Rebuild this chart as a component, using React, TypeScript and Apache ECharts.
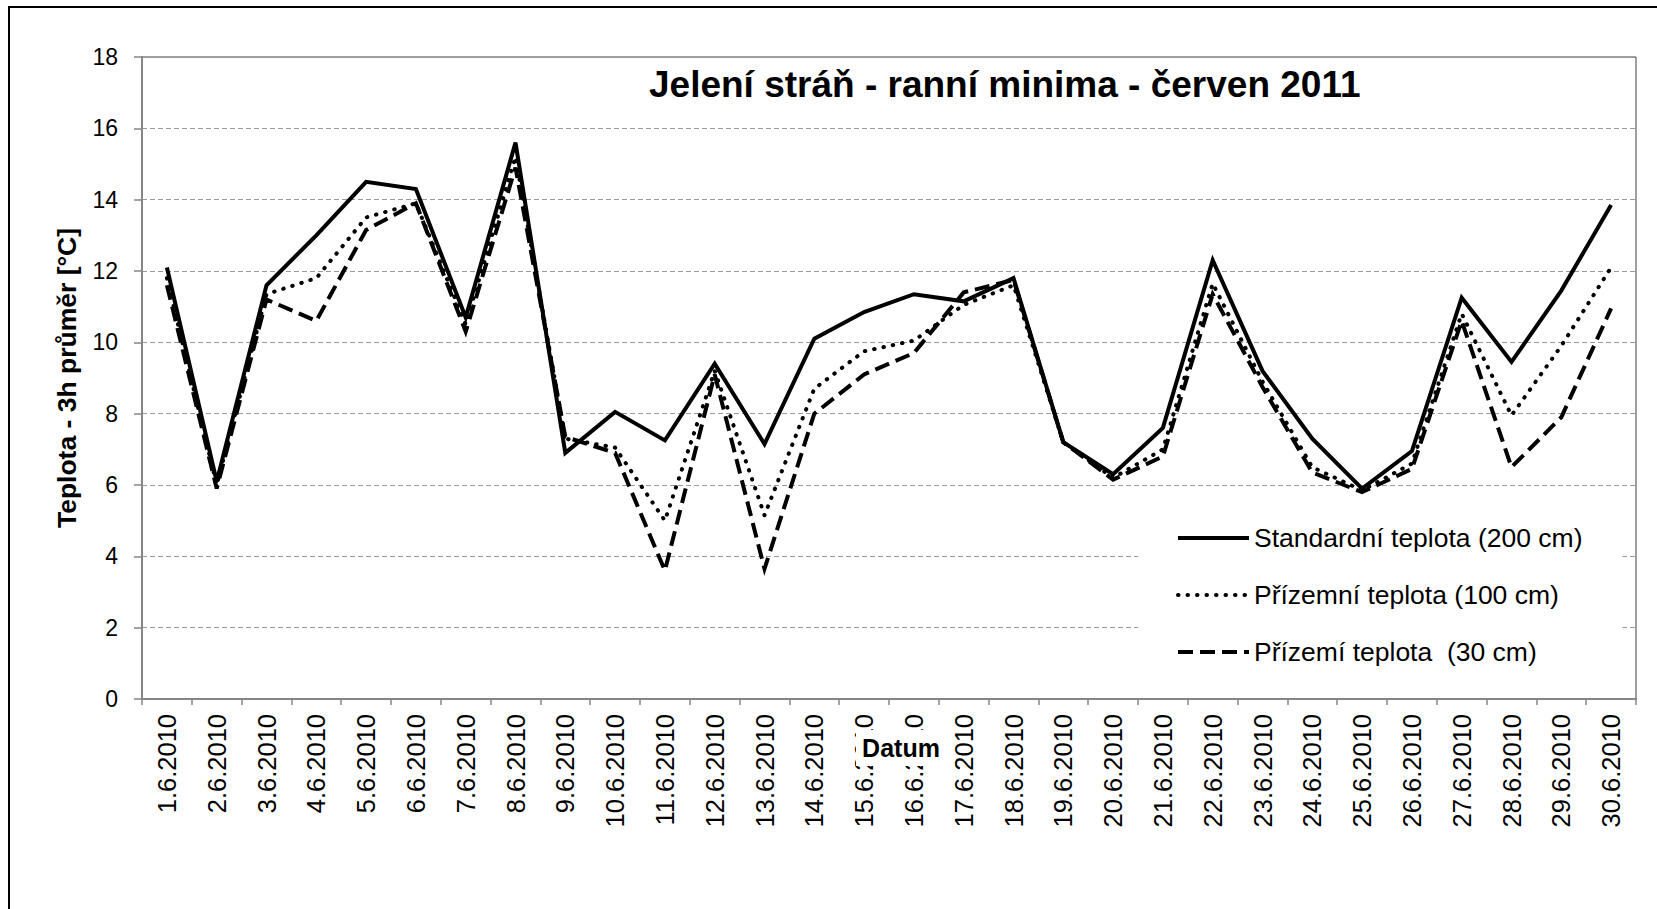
import React, { useEffect, useRef } from "react";
import * as echarts from "echarts";

const categories: string[] = [
  "1.6.2010", "2.6.2010", "3.6.2010", "4.6.2010", "5.6.2010", "6.6.2010",
  "7.6.2010", "8.6.2010", "9.6.2010", "10.6.2010", "11.6.2010", "12.6.2010",
  "13.6.2010", "14.6.2010", "15.6.2010", "16.6.2010", "17.6.2010", "18.6.2010",
  "19.6.2010", "20.6.2010", "21.6.2010", "22.6.2010", "23.6.2010", "24.6.2010",
  "25.6.2010", "26.6.2010", "27.6.2010", "28.6.2010", "29.6.2010", "30.6.2010",
];

const standard200: number[] = [
  12.1, 6.1, 11.6, 13.0, 14.5, 14.3, 10.7, 15.6, 6.9, 8.05,
  7.25, 9.4, 7.15, 10.1, 10.85, 11.35, 11.15, 11.8, 7.2, 6.3,
  7.6, 12.3, 9.2, 7.3, 5.9, 6.95, 11.25, 9.45, 11.45, 13.85,
];

const prizemni100: number[] = [
  11.8, 6.0, 11.35, 11.8, 13.5, 13.9, 10.5, 15.2, 7.3, 7.05,
  5.0, 9.2, 5.15, 8.7, 9.75, 10.05, 11.05, 11.6, 7.2, 6.2,
  7.0, 11.65, 8.9, 6.5, 5.85, 6.6, 10.8, 7.95, 9.9, 12.1,
];

const prizemi30: number[] = [
  11.6, 5.9, 11.2, 10.6, 13.15, 13.9, 10.3, 14.9, 7.35, 6.9,
  3.6, 9.1, 3.65, 8.0, 9.1, 9.7, 11.4, 11.75, 7.2, 6.15,
  6.8, 11.35, 8.75, 6.35, 5.8, 6.45, 10.6, 6.5, 7.9, 10.95,
];

const seriesNames: string[] = [
  "Standardní teplota (200 cm)",
  "Přízemní teplota (100 cm)",
  "Přízemí teplota  (30 cm)",
];

const titleText = "Jelení stráň - ranní minima - červen 2011";
const yAxisName = "Teplota - 3h průměr [°C]";
const xAxisName = "Datum";

const FONT = '"Liberation Sans", Arial, sans-serif';

export default function App() {
  const ref = useRef<HTMLDivElement>(null);

  useEffect(() => {
    document.body.style.margin = "0";
    if (!ref.current) return;
    const chart = echarts.init(ref.current, undefined, { renderer: "svg" });
    const axisGray = "#868686";
    chart.setOption({
      animation: false,
      backgroundColor: "#ffffff",
      textStyle: { fontFamily: FONT },
      title: {
        text: titleText,
        left: 649,
        top: 66,
        padding: 0,
        textStyle: {
          fontFamily: FONT,
          fontSize: 37,
          fontWeight: "bold",
          color: "#000",
        },
      },
      graphic: [
        {
          type: "rect",
          silent: true,
          z: 100,
          shape: { x: 9, y: 7, width: 1800, height: 1000 },
          style: { fill: "none", stroke: "#000", lineWidth: 2 },
        },
        {
          type: "rect",
          silent: true,
          z: 100,
          shape: { x: 856, y: 730, width: 92, height: 36 },
          style: { fill: "#ffffff", stroke: "none" },
        },
        {
          type: "text",
          silent: true,
          z: 101,
          x: 901,
          y: 748,
          style: {
            text: xAxisName,
            fontFamily: FONT,
            fontSize: 25,
            fontWeight: "bold",
            fill: "#000",
            align: "center",
            verticalAlign: "middle",
          },
        },
      ],
      grid: {
        left: 142,
        top: 57,
        width: 1494,
        height: 642,
        show: true,
        borderColor: "#404040",
        borderWidth: 1,
        backgroundColor: "transparent",
      },
      legend: {
        orient: "vertical",
        left: 1138,
        top: 500,
        padding: [23, 40, 23, 38],
        backgroundColor: "#ffffff",
        itemWidth: 71,
        itemHeight: 14,
        itemGap: 27,
        lineStyle: { width: 4 },
        itemStyle: { opacity: 0, borderWidth: 0 },
        textStyle: {
          fontFamily: FONT,
          fontSize: 26.5,
          color: "#000",
          lineHeight: 30,
        },
        data: seriesNames,
      },
      xAxis: {
        type: "category",
        data: categories,
        boundaryGap: true,
        axisLine: { show: true, lineStyle: { color: axisGray, width: 2 } },
        axisTick: {
          show: true,
          interval: 0,
          alignWithLabel: false,
          length: 6,
          lineStyle: { color: axisGray, width: 1.5 },
        },
        axisLabel: {
          interval: 0,
          rotate: 90,
          margin: 15,
          fontFamily: FONT,
          fontSize: 25.5,
          color: "#000",
        },
        splitLine: { show: false },
      },
      yAxis: {
        type: "value",
        min: 0,
        max: 18,
        interval: 2,
        name: yAxisName,
        nameLocation: "middle",
        nameRotate: 90,
        nameGap: 62,
        nameTextStyle: {
          fontFamily: FONT,
          fontSize: 26.5,
          fontWeight: "bold",
          color: "#000",
        },
        axisLine: { show: true, lineStyle: { color: axisGray, width: 2 } },
        axisTick: {
          show: true,
          inside: false,
          length: 8,
          lineStyle: { color: axisGray, width: 1.5 },
        },
        axisLabel: {
          margin: 24,
          fontFamily: FONT,
          fontSize: 23,
          color: "#000",
        },
        splitLine: {
          show: true,
          lineStyle: { color: "#999999", width: 1, type: [5, 3] },
        },
      },
      series: [
        {
          name: seriesNames[0],
          type: "line",
          data: standard200,
          symbol: "none",
          showSymbol: false,
          z: 3,
          lineStyle: { color: "#000", width: 4, type: "solid", join: "miter", miterLimit: 4 },
          itemStyle: { color: "#000" },
        },
        {
          name: seriesNames[1],
          type: "line",
          data: prizemni100,
          symbol: "none",
          showSymbol: false,
          z: 4,
          lineStyle: { color: "#000", width: 4, type: [0.5, 9], cap: "round", join: "round" },
          itemStyle: { color: "#000" },
        },
        {
          name: seriesNames[2],
          type: "line",
          data: prizemi30,
          symbol: "none",
          showSymbol: false,
          z: 5,
          lineStyle: { color: "#000", width: 4, type: [15, 7], cap: "butt", join: "miter", miterLimit: 4 },
          itemStyle: { color: "#000" },
        },
      ],
    });
    return () => chart.dispose();
  }, []);

  return <div ref={ref} style={{ width: 1657, height: 909 }} />;
}
